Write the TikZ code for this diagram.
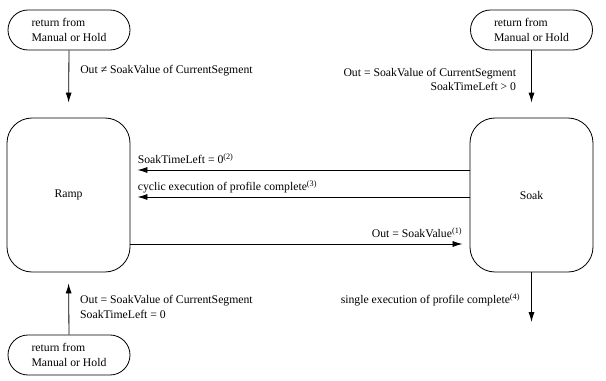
\documentclass[tikz,border=0pt]{standalone}
\usepackage{fontspec}
\setmainfont{Liberation Serif}
\usetikzlibrary{arrows.meta,calc}

\begin{document}
\begin{tikzpicture}[x=0.03cm, y=-0.03cm,
    font=\fontsize{10}{12.5}\selectfont,
    state/.style={draw, line width=0.7pt, rounded corners=0.75cm, minimum width=3.69cm, minimum height=4.62cm},
    entry/.style={draw, line width=0.7pt, rounded corners=0.6cm, minimum width=3.66cm, minimum height=1.2cm, align=left},
    trans/.style={line width=0.7pt, -{Latex[length=0.3cm, width=0.18cm]}},
    cond/.style={inner sep=0pt},
]
\useasboundingbox (0,0) rectangle (606,380);

\node[state] (ramp) at (68.5,195) {Ramp};
\node[state] (soak) at (531.5,195) {Soak};
\node[entry] (retA) at (69,30) {return from\\Manual or Hold};
\node[entry] (retB) at (531.5,30) {return from\\Manual or Hold};
\node[entry] (retC) at (69,355) {return from\\Manual or Hold};
\coordinate (done) at (531.5,322);

\draw[trans, shorten >=0.45cm] (retA.south) -- node[cond, anchor=west, xshift=0.33cm, pos=0.3] {Out ≠ SoakValue of CurrentSegment} (ramp.north);
\draw[trans, shorten >=0.45cm] (retB.south) -- node[cond, anchor=east, xshift=-0.45cm, pos=0.43, align=right] {Out = SoakValue of CurrentSegment\\SoakTimeLeft > 0} (soak.north);
\draw[trans, shorten >=0.33cm] (retC.north) -- node[cond, anchor=west, xshift=0.33cm, pos=0.44, align=left] {Out = SoakValue of CurrentSegment\\SoakTimeLeft = 0} (ramp.south);

\draw[trans, shorten >=0.21cm] ($(soak.west)+(0,-25)$) -- node[cond, anchor=base west, pos=1, xshift=0.21cm, yshift=0.2cm] {SoakTimeLeft = 0\textsuperscript{(2)}} ($(ramp.east)+(0,-25)$);
\draw[trans, shorten >=0.21cm] ($(soak.west)+(0,2)$) -- node[cond, anchor=base west, pos=1, xshift=0.21cm, yshift=0.2cm] {cyclic execution of profile complete\textsuperscript{(3)}} ($(ramp.east)+(0,2)$);
\draw[trans, shorten >=0.21cm] ($(ramp.east)+(0,49)$) -- node[cond, anchor=base east, pos=1, xshift=-0.21cm, yshift=0.2cm] {Out = SoakValue\textsuperscript{(1)}} ($(soak.west)+(0,49)$);
\draw[trans] (soak.south) -- node[cond, anchor=east, xshift=-0.33cm, pos=0.56] {single execution of profile complete\textsuperscript{(4)}} (done);

\end{tikzpicture}
\end{document}
